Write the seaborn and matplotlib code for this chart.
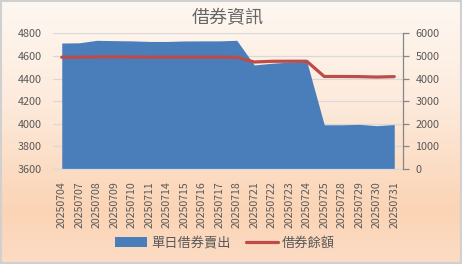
import numpy as np
import pandas as pd
import matplotlib
matplotlib.use("Agg")
import matplotlib.pyplot as plt
from matplotlib.patches import Rectangle, Patch
from matplotlib.lines import Line2D
from matplotlib.colors import LinearSegmentedColormap
import seaborn as sns

# Trading dates and series
dates = ["20250704", "20250707", "20250708", "20250709", "20250710",
         "20250711", "20250714", "20250715", "20250716", "20250717",
         "20250718", "20250721", "20250722", "20250723", "20250724",
         "20250725", "20250728", "20250729", "20250730", "20250731"]
daily_short_sell = [4714, 4716, 4738, 4735, 4733, 4728, 4728, 4732, 4733, 4733,
                    4738, 4520, 4535, 4545, 4552, 3991, 3991, 3995, 3983, 3993]
balance = [4941, 4945, 4958, 4958, 4955, 4945, 4945, 4945, 4945, 4945,
           4941, 4730, 4762, 4765, 4765, 4090, 4090, 4085, 4065, 4085]

title = "借券資訊"
area_label = "單日借券賣出"
line_label = "借券餘額"
left_ticks = [3600, 3800, 4000, 4200, 4400, 4600, 4800]
right_ticks = [0, 1000, 2000, 3000, 4000, 5000, 6000]

sns.set_theme(style="white")
plt.rcParams["font.family"] = ["Noto Sans CJK TC", "DejaVu Sans"]

df = pd.DataFrame({"date": dates, "idx": np.arange(len(dates)),
                   "daily": daily_short_sell, "balance": balance})

TXT = "#595959"
GRID = "#D9D9D9"
BLUE = "#4A7EBB"
RED = "#BE4B48"

fig = plt.figure(figsize=(4.62, 2.64), dpi=100)

# peach gradient background
bg = fig.add_axes([0, 0, 1, 1], zorder=-10)
grad = LinearSegmentedColormap.from_list(
    "peach", [(0.0, "#FEF8F2"), (0.4, "#FDEADB"), (0.8, "#FBD4B5"), (1.0, "#FCDCC5")])
bg.imshow(np.linspace(0, 1, 256).reshape(-1, 1), aspect="auto", cmap=grad,
          extent=[0, 1, 0, 1], origin="upper")
bg.add_patch(Rectangle((0.002, 0.003), 0.996, 0.993, fill=False,
                       edgecolor="#D0D0D0", linewidth=1.5, transform=bg.transAxes))
bg.set_axis_off()

ax = fig.add_axes([53 / 462, 1 - 169 / 264, 350 / 462, (169 - 33.3) / 264])
ax.patch.set_alpha(0)

# area on the primary axis
ax.fill_between(df["idx"], df["daily"], 3600, color=BLUE, linewidth=0, zorder=2)
ax.set_ylim(3600, 4800)
ax.set_yticks(left_ticks)
ax.set_xlim(-0.5, len(dates) - 0.5)
ax.set_xticks(df["idx"])
ax.set_xticklabels(dates, rotation=90, fontsize=7.6, color=TXT)
ax.set_xticks(np.arange(-0.5, len(dates)), minor=True)
ax.tick_params(axis="x", which="major", length=0, pad=9)
ax.tick_params(axis="x", which="minor", length=3.5, color=GRID, width=0.8)
ax.tick_params(axis="y", length=0, labelsize=7.8, labelcolor=TXT, pad=8)
ax.yaxis.grid(True, color=GRID, linewidth=0.9, zorder=0)
ax.set_axisbelow(True)
for s in ["left", "right", "top"]:
    ax.spines[s].set_visible(False)
ax.spines["bottom"].set_color(GRID)
ax.spines["bottom"].set_linewidth(0.9)

# balance line on the secondary axis
ax2 = ax.twinx()
sns.lineplot(data=df, x="idx", y="balance", ax=ax2, color=RED, linewidth=2.3,
             legend=False, zorder=3)
ax2.set_ylim(0, 6000)
ax2.set_yticks(right_ticks)
ax2.set_xlim(-0.5, len(dates) - 0.5)
ax2.set_xlabel("")
ax2.set_ylabel("")
ax2.tick_params(axis="y", length=4, color="#868686", width=0.9,
                labelsize=7.8, labelcolor=TXT, pad=5)
for s in ["left", "top", "bottom"]:
    ax2.spines[s].set_visible(False)
ax2.spines["right"].set_color("#868686")
ax2.spines["right"].set_linewidth(0.9)
ax2.grid(False)

fig.text(228 / 462, 1 - 18 / 264, title, ha="center", va="center",
         fontsize=13, color="#666666", fontweight="light")

handles = [Patch(facecolor=BLUE, edgecolor="none"),
           Line2D([0], [0], color=RED, linewidth=2.3)]
fig.legend(handles, [area_label, line_label], loc="center",
           bbox_to_anchor=(225 / 462, 1 - 243 / 264), ncol=2, frameon=False,
           fontsize=9.5, labelcolor=TXT, handlelength=2.4, handleheight=0.7,
           handletextpad=0.3, columnspacing=1.2)

fig.savefig("out.png", dpi=100)
